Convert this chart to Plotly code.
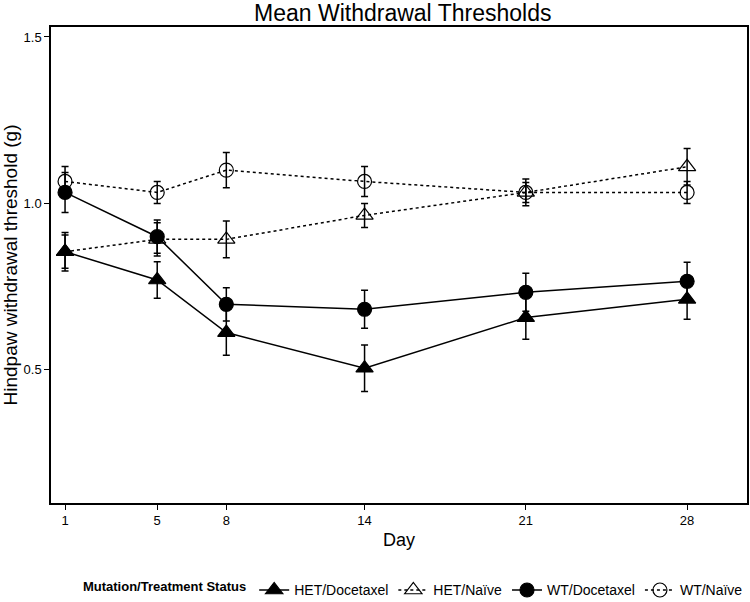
import plotly.graph_objects as go

days = [1, 5, 8, 14, 21, 28]
series_names = ["HET/Docetaxel", "HET/Naïve", "WT/Docetaxel", "WT/Naïve"]
het_doc = [0.855, 0.770, 0.612, 0.505, 0.657, 0.712]
het_doc_err = [0.058, 0.055, 0.068, 0.070, 0.065, 0.060]
het_nai = [0.855, 0.892, 0.892, 0.964, 1.033, 1.110]
het_nai_err = [0.050, 0.050, 0.055, 0.036, 0.030, 0.055]
wt_doc = [1.033, 0.900, 0.697, 0.682, 0.733, 0.766]
wt_doc_err = [0.060, 0.050, 0.050, 0.057, 0.057, 0.057]
wt_nai = [1.066, 1.033, 1.100, 1.066, 1.033, 1.033]
wt_nai_err = [0.045, 0.033, 0.053, 0.045, 0.040, 0.033]

yticks = [0.5, 1.0, 1.5]
ytick_labels = ["0.5", "1.0", "1.5"]

series = [
    (series_names[0], het_doc, het_doc_err, "triangle-up", "solid", 15),
    (series_names[1], het_nai, het_nai_err, "triangle-up-open", "dot", 15),
    (series_names[2], wt_doc, wt_doc_err, "circle", "solid", 14),
    (series_names[3], wt_nai, wt_nai_err, "circle-open", "dot", 14),
]

fig = go.Figure()
for name, vals, errs, sym, dash, size in series:
    fig.add_trace(go.Scatter(
        x=days, y=vals, name=name, mode="lines+markers",
        line=dict(color="black", width=1.5, dash=dash),
        marker=dict(symbol=sym, size=size, color="black",
                    line=dict(color="black", width=1.2)),
        error_y=dict(type="data", array=errs, visible=True,
                     color="black", thickness=1.5, width=3.5),
    ))

font = "Liberation Sans, Arial, Helvetica, sans-serif"
fig.update_layout(
    width=750, height=602,
    margin=dict(l=51, r=3, t=27, b=99, autoexpand=False),
    paper_bgcolor="white", plot_bgcolor="white",
    font=dict(family=font, color="black", size=12),
    title=dict(text="Mean Withdrawal Thresholds", x=0.537, xanchor="center",
               y=0.978, yanchor="middle", font=dict(size=23, color="black")),
    xaxis=dict(range=[0.39, 30.6], tickvals=days, ticktext=[str(d) for d in days],
               ticks="outside", ticklen=5, tickwidth=1.2, tickcolor="black",
               showgrid=False, zeroline=False, showline=True, linecolor="black",
               linewidth=1.5, mirror=True, automargin=False,
               title=dict(text="Day", font=dict(size=18), standoff=6),
               tickfont=dict(size=13)),
    yaxis=dict(range=[0.1, 1.53], tickvals=yticks, ticktext=ytick_labels,
               ticks="outside", ticklen=5, tickwidth=1.2, tickcolor="black",
               showgrid=False, zeroline=False, showline=True, linecolor="black",
               linewidth=1.5, mirror=True, automargin=False,
               title=dict(text="Hindpaw withdrawal threshold (g)", font=dict(size=19), standoff=4),
               tickfont=dict(size=13)),
    legend=dict(orientation="h", x=0.043, xanchor="left", y=-0.15, yanchor="top",
                title=dict(text="<b>Mutation/Treatment Status</b>", side="left",
                           font=dict(size=13)),
                font=dict(size=14), tracegroupgap=0),
)

fig.write_html("out.html", config={"displayModeBar": False},
               post_script="document.body.style.margin='0';document.body.style.overflow='hidden';")
